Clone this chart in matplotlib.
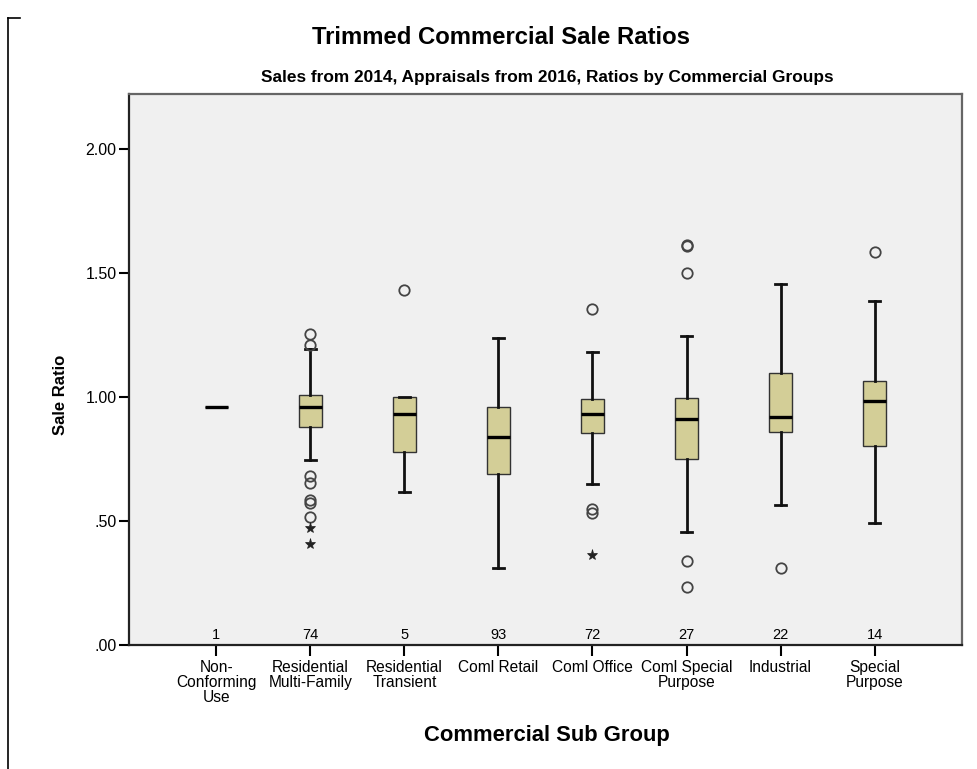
import matplotlib
matplotlib.use("Agg")
import matplotlib.pyplot as plt
from matplotlib.lines import Line2D

FONT = ["Liberation Sans", "DejaVu Sans"]

groups = ["Non-\nConforming\nUse", "Residential\nMulti-Family", "Residential\nTransient",
          "Coml Retail", "Coml Office", "Coml Special\nPurpose", "Industrial",
          "Special\nPurpose"]
counts = [1, 74, 5, 93, 72, 27, 22, 14]

# five-number summaries per group
whis_lo = [0.960, 0.745, 0.617, 0.310, 0.648, 0.456, 0.565, 0.491]
q1 = [0.960, 0.878, 0.779, 0.691, 0.854, 0.752, 0.858, 0.803]
median = [0.960, 0.962, 0.932, 0.838, 0.932, 0.910, 0.918, 0.985]
q3 = [0.960, 1.007, 0.999, 0.962, 0.994, 0.998, 1.097, 1.064]
whis_hi = [0.960, 1.196, 0.999, 1.238, 1.183, 1.245, 1.455, 1.389]

# outliers (circles) and extreme values (stars)
outliers = [
    [],
    [1.253, 1.212, 0.680, 0.653, 0.586, 0.573, 0.518],
    [1.434],
    [],
    [1.357, 0.547, 0.531],
    [1.613, 1.608, 1.502, 0.341, 0.235],
    [0.309],
    [1.587],
]
extremes = [[], [0.473, 0.407], [], [], [0.363], [], [], []]

y_ticks = [0.0, 0.5, 1.0, 1.5, 2.0]
y_tick_labels = [".00", ".50", "1.00", "1.50", "2.00"]

fig = plt.figure(figsize=(9.78, 7.69), dpi=100)
ax = fig.add_axes([0.1319, 0.1612, 0.8517, 0.7166])
ax.set_facecolor("#f0f0f0")

stats = []
for i in range(len(groups)):
    stats.append(dict(med=median[i], q1=q1[i], q3=q3[i],
                      whislo=whis_lo[i], whishi=whis_hi[i], fliers=[]))

pos = list(range(len(groups)))
bp = ax.bxp(stats, positions=pos, widths=0.25, showfliers=False,
            patch_artist=True,
            boxprops=dict(facecolor="#d3ce97", edgecolor="#333333", linewidth=1.0),
            medianprops=dict(color="black", linewidth=2.4, solid_capstyle="butt"),
            whiskerprops=dict(color="#111111", linewidth=2.0),
            capprops=dict(color="#111111", linewidth=2.0),
            capwidths=0.125)

for i in pos:
    if outliers[i]:
        ax.plot([i] * len(outliers[i]), outliers[i], "o", ms=7.5,
                mfc="none", mec="#444444", mew=1.3, zorder=4)
    if extremes[i]:
        ax.plot([i] * len(extremes[i]), extremes[i], "*", ms=8,
                color="#222222", mew=0.5, zorder=4)
    ax.text(i, 0.012, str(counts[i]), ha="center", va="bottom",
            fontsize=10.5, family=FONT)

ax.set_xlim(-0.93, 7.93)
ax.set_ylim(0, 2.223)
ax.set_xticks(pos)
ax.set_xticklabels(groups, family=FONT, fontsize=11.2, linespacing=1.0)
ax.set_yticks(y_ticks)
ax.set_yticklabels(y_tick_labels, family=FONT, fontsize=11.5)
ax.tick_params(axis="x", length=8, width=1.5, pad=3)
ax.tick_params(axis="y", length=7, width=1.5, pad=2)

for side in ["left", "bottom"]:
    ax.spines[side].set_color("#222222")
    ax.spines[side].set_linewidth(1.6)
for side in ["top", "right"]:
    ax.spines[side].set_color("#666666")
    ax.spines[side].set_linewidth(1.6)

fig.text(0.062, 0.486, "Sale Ratio", rotation=90, ha="center", va="center",
         family=FONT, fontsize=12, fontweight="bold")
fig.text(0.559, 0.044, "Commercial Sub Group", ha="center", va="center",
         family=FONT, fontsize=15.8, fontweight="bold")
fig.text(0.512, 0.951, "Trimmed Commercial Sale Ratios", ha="center",
         va="center", family=FONT, fontsize=17.2, fontweight="bold")
fig.text(0.56, 0.899, "Sales from 2014, Appraisals from 2016, Ratios by Commercial Groups",
         ha="center", va="center", family=FONT, fontsize=12.4, fontweight="bold")

# outer frame corner on the left edge
fig.add_artist(Line2D([8 / 978, 8 / 978], [0, 1 - 18 / 769], color="black", lw=1.2))
fig.add_artist(Line2D([8 / 978, 20 / 978], [1 - 18 / 769, 1 - 18 / 769], color="black", lw=1.2))

fig.savefig("out.png", dpi=100, facecolor="white")
